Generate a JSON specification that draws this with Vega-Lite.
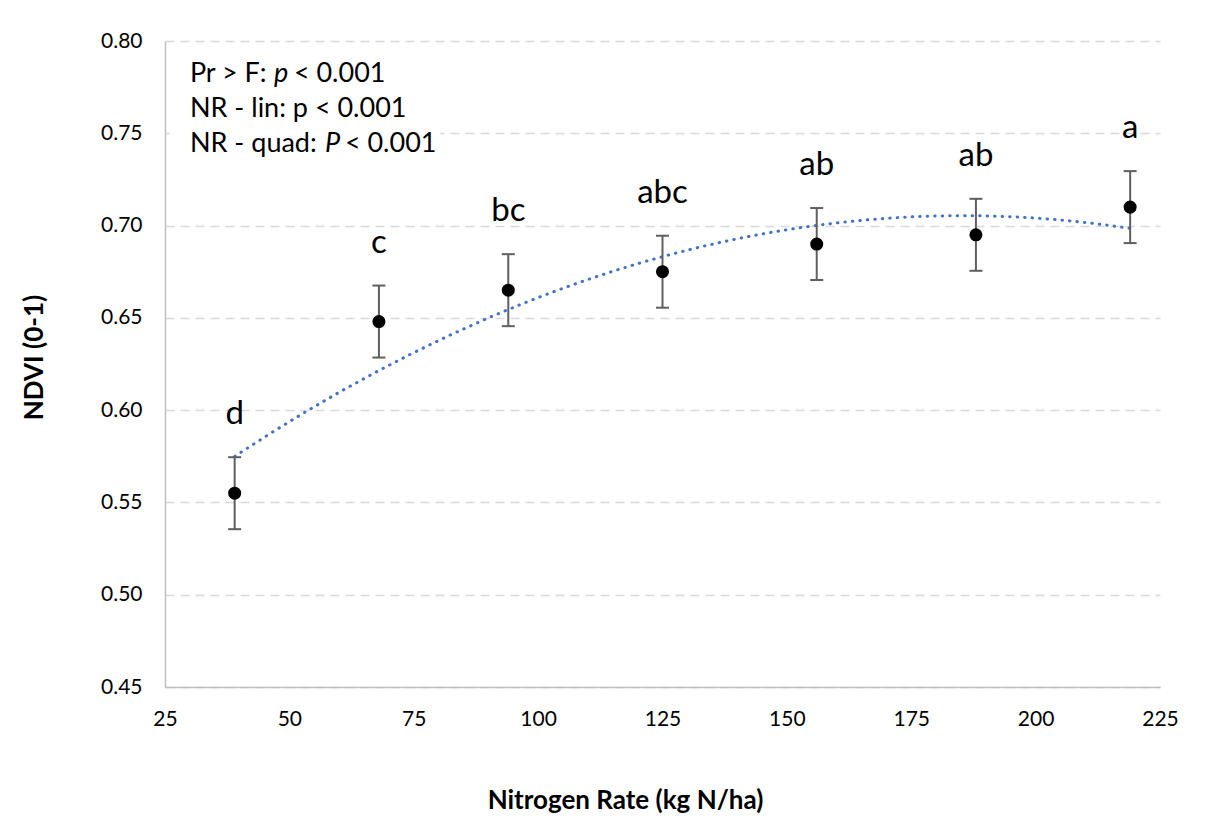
{
  "$schema": "https://vega.github.io/schema/vega-lite/v6.json",
  "width": 995,
  "height": 646,
  "autosize": {"type": "none"},
  "padding": {"left": 165, "top": 41, "right": 52, "bottom": 146},
  "background": "white",
  "config": {"view": {"stroke": null}, "font": "Lato", "text": {"font": "Lato", "color": "black", "fontWeight": "normal"}},
  "datasets": {
    "points": [
      {"n": 39, "ndvi": 0.555, "lo": 0.5355, "hi": 0.5745, "group": "d"},
      {"n": 68, "ndvi": 0.648, "lo": 0.6285, "hi": 0.6675, "group": "c"},
      {"n": 94, "ndvi": 0.665, "lo": 0.6455, "hi": 0.6845, "group": "bc"},
      {"n": 125, "ndvi": 0.675, "lo": 0.6555, "hi": 0.6945, "group": "abc"},
      {"n": 156, "ndvi": 0.690, "lo": 0.6705, "hi": 0.7095, "group": "ab"},
      {"n": 188, "ndvi": 0.695, "lo": 0.6755, "hi": 0.7145, "group": "ab"},
      {"n": 219, "ndvi": 0.710, "lo": 0.6905, "hi": 0.7295, "group": "a"}
    ],
    "one": [{"k": 1}]
  },
  "layer": [
    {
      "data": {"name": "points"},
      "transform": [{"regression": "ndvi", "on": "n", "method": "poly", "order": 2}],
      "mark": {"type": "line", "color": "#4472C4", "strokeWidth": 3, "strokeDash": [0.5, 7], "strokeCap": "round"},
      "encoding": {
        "x": {"field": "n", "type": "quantitative", "scale": {"domain": [25, 225], "nice": false, "zero": false},
          "axis": {"values": [25, 50, 75, 100, 125, 150, 175, 200, 225], "grid": false, "domain": true, "domainColor": "#BFBFBF", "domainWidth": 1.5, "ticks": false, "tickSize": 0, "labelFontSize": 21, "labelColor": "black", "labelPadding": 21, "labelFlush": false, "labelFont": "Lato",
            "title": "Nitrogen Rate (kg N/ha)", "titleFont": "Lato", "titleFontSize": 26, "titleFontWeight": "bold", "titleColor": "black", "titleX": 460, "titleY": 113, "titleBaseline": "middle"}},
        "y": {"field": "ndvi", "type": "quantitative", "scale": {"domain": [0.45, 0.8], "nice": false, "zero": false},
          "axis": {"values": [0.45, 0.5, 0.55, 0.6, 0.65, 0.7, 0.75, 0.8], "format": ".2f", "grid": true, "gridColor": "#D9D9D9", "gridDash": [9, 6], "gridWidth": 1.5, "domain": true, "domainColor": "#BFBFBF", "domainWidth": 1.5, "ticks": false, "tickSize": 0, "labelFontSize": 21, "labelColor": "black", "labelPadding": 23, "labelFont": "Lato",
            "title": "NDVI (0-1)", "titleFont": "Lato", "titleFontSize": 26, "titleFontWeight": "bold", "titleColor": "black", "titleX": -131, "titleY": 316, "titleBaseline": "middle", "titleAngle": 270}}
      }
    },
    {
      "data": {"name": "points"},
      "mark": {"type": "rule", "color": "#5F5F5F", "strokeWidth": 2},
      "encoding": {
        "x": {"field": "n", "type": "quantitative"},
        "y": {"field": "lo", "type": "quantitative", "title": "NDVI (0-1)"},
        "y2": {"field": "hi"}
      }
    },
    {
      "data": {"name": "points"},
      "mark": {"type": "tick", "orient": "horizontal", "color": "#5F5F5F", "size": 13, "thickness": 2, "opacity": 1},
      "encoding": {
        "x": {"field": "n", "type": "quantitative"},
        "y": {"field": "lo", "type": "quantitative", "title": "NDVI (0-1)"}
      }
    },
    {
      "data": {"name": "points"},
      "mark": {"type": "tick", "orient": "horizontal", "color": "#5F5F5F", "size": 13, "thickness": 2, "opacity": 1},
      "encoding": {
        "x": {"field": "n", "type": "quantitative"},
        "y": {"field": "hi", "type": "quantitative", "title": "NDVI (0-1)"}
      }
    },
    {
      "data": {"name": "points"},
      "mark": {"type": "circle", "color": "black", "size": 170, "opacity": 1},
      "encoding": {
        "x": {"field": "n", "type": "quantitative"},
        "y": {"field": "ndvi", "type": "quantitative"}
      }
    },
    {
      "data": {"name": "points"},
      "mark": {"type": "text", "fontSize": 33, "fontWeight": "normal", "baseline": "alphabetic", "align": "center", "dy": -33, "color": "black"},
      "encoding": {
        "x": {"field": "n", "type": "quantitative"},
        "y": {"field": "hi", "type": "quantitative", "title": "NDVI (0-1)"},
        "text": {"field": "group"}
      }
    },
    {
      "data": {"name": "one"},
      "mark": {"type": "rect", "fill": "white", "stroke": null},
      "encoding": {
        "x": {"datum": 26},
        "x2": {"datum": 80.3},
        "y": {"datum": 0.733},
        "y2": {"datum": 0.792}
      }
    },
    {
      "data": {"name": "one"},
      "mark": {"type": "text", "fontSize": 27, "fontWeight": "normal", "align": "left", "baseline": "alphabetic", "color": "black", "text": "Pr > F:"},
      "encoding": {"x": {"datum": 30}, "y": {"datum": 0.7776}}
    },
    {
      "data": {"name": "one"},
      "mark": {"type": "text", "fontSize": 27, "fontWeight": "normal", "align": "left", "baseline": "alphabetic", "color": "black", "fontStyle": "italic", "text": "p", "dx": 84},
      "encoding": {"x": {"datum": 30}, "y": {"datum": 0.7776}}
    },
    {
      "data": {"name": "one"},
      "mark": {"type": "text", "fontSize": 27, "fontWeight": "normal", "align": "left", "baseline": "alphabetic", "color": "black", "text": "< 0.001", "dx": 104},
      "encoding": {"x": {"datum": 30}, "y": {"datum": 0.7776}}
    },
    {
      "data": {"name": "one"},
      "mark": {"type": "text", "fontSize": 27, "fontWeight": "normal", "align": "left", "baseline": "alphabetic", "color": "black", "text": "NR - lin: p < 0.001"},
      "encoding": {"x": {"datum": 30}, "y": {"datum": 0.7587}}
    },
    {
      "data": {"name": "one"},
      "mark": {"type": "text", "fontSize": 27, "fontWeight": "normal", "align": "left", "baseline": "alphabetic", "color": "black", "text": "NR - quad:"},
      "encoding": {"x": {"datum": 30}, "y": {"datum": 0.7397}}
    },
    {
      "data": {"name": "one"},
      "mark": {"type": "text", "fontSize": 27, "fontWeight": "normal", "align": "left", "baseline": "alphabetic", "color": "black", "fontStyle": "italic", "text": "P", "dx": 135},
      "encoding": {"x": {"datum": 30}, "y": {"datum": 0.7397}}
    },
    {
      "data": {"name": "one"},
      "mark": {"type": "text", "fontSize": 27, "fontWeight": "normal", "align": "left", "baseline": "alphabetic", "color": "black", "text": "< 0.001", "dx": 155},
      "encoding": {"x": {"datum": 30}, "y": {"datum": 0.7397}}
    }
  ]
}
